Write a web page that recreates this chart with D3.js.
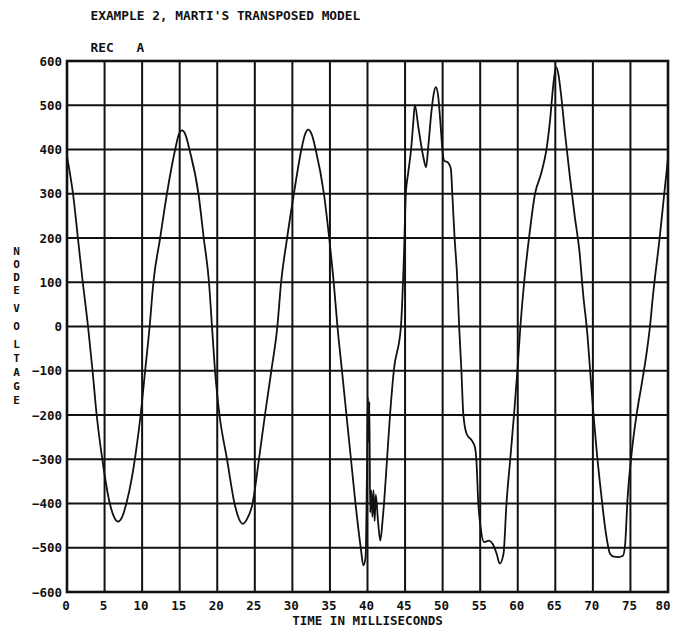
<!DOCTYPE html>
<html>
<head>
<meta charset="utf-8">
<script src="https://cdn.jsdelivr.net/npm/d3@7"></script>
<style>
  html, body { margin: 0; padding: 0; background: #fff; }
  svg { display: block; }
  text { font-family: "DejaVu Sans Mono", monospace; font-weight: bold; fill: #111; }
</style>
</head>
<body>
<svg id="chart" width="674" height="632"></svg>
<script>
// Node voltage at receiving end A, time in milliseconds
const timeMs = [
  0, 0.4, 0.8, 1.45, 2.1, 2.8, 3.4, 3.95, 4.7, 5.7, 6.3, 6.8, 7.3, 7.9, 8.6, 9.2, 9.8, 10.4, 11.0,
  11.5, 12.4, 13.3, 14.4, 14.9, 15.3, 15.8, 16.3, 17.5, 18.2, 18.9, 19.3, 19.7, 20.3, 21.3, 22.3,
  22.9, 23.4, 23.9, 24.7, 25.55, 26.35, 27.2, 28.0, 28.5, 29.3, 30.2, 31.2, 31.7, 32.1, 32.6, 33.1,
  34.2, 34.9, 35.5, 36.0, 36.6, 37.2, 37.8, 38.4, 39.1, 39.45, 39.75, 39.95, 40.05, 40.15, 40.25,
  40.35, 40.5, 40.65, 40.8, 40.95, 41.1, 41.4, 41.7, 42.0, 42.2, 42.6, 43.0, 43.5, 44.45, 44.85,
  45.1, 45.4, 45.8, 46.1, 46.3, 46.8, 47.4, 47.8, 48.1, 48.5, 48.85, 49.1, 49.4, 49.7, 50.0, 50.2,
  50.75, 51.1, 51.3, 51.6, 51.9, 52.2, 52.5, 52.75, 53.2, 53.9, 54.3, 54.5, 54.75, 55.05, 55.5,
  56.2, 56.65, 57.2, 57.6, 58.1, 58.5, 59.0, 59.5, 59.95, 60.35, 60.85, 61.5, 62.3, 63.1, 63.8,
  64.3, 64.7, 65.1, 65.4, 65.75, 66.3, 66.95, 67.6, 68.2, 68.7, 69.3, 69.6, 70.0, 70.5, 71.1,
  71.75, 72.3, 72.8, 73.4, 74.0, 74.3, 74.6, 75.2, 75.9, 76.5, 77.2, 77.6, 78.0, 78.9, 79.5, 80.0
];
const nodeVoltage = [
  385, 345, 300, 200, 100, 0, -100, -200, -300, -400, -432, -441, -432, -400, -345, -280, -200, -100, 0,
  100, 200, 300, 400, 435, 443, 432, 400, 300, 200, 100, 0, -100, -200, -300, -400,
  -435, -446, -437, -400, -300, -200, -100, 0, 100, 200, 300, 400, 435, 445, 433, 400,
  300, 200, 100, 0, -100, -200, -300, -400, -500, -540, -520, -300, -160, -260, -170,
  -420, -370, -430, -370, -440, -380, -440, -484, -440, -400, -300, -200, -100, 0, 160,
  300, 345, 400, 462, 500, 447, 386, 360, 409, 484, 529, 541, 522, 462, 394, 375,
  370, 356, 296, 198, 123, 0, -100, -197, -243, -258, -273, -303, -400, -453, -487,
  -484, -491, -514, -536, -514, -400, -300, -200, -100, 0, 100, 200, 300, 345, 398,
  466, 541, 586, 571, 526, 435, 337, 247, 172, 74, -24, -92, -182, -280, -378,
  -469, -514, -520, -521, -518, -491, -393, -280, -190, -130, -54, 0, 70, 202, 300, 380
];

const xTicks = [0, 5, 10, 15, 20, 25, 30, 35, 40, 45, 50, 55, 60, 65, 70, 75, 80];
const yTicks = [600, 500, 400, 300, 200, 100, 0, -100, -200, -300, -400, -500, -600];

const titleText = "EXAMPLE 2, MARTI'S TRANSPOSED MODEL";
const subtitleLeft = "REC";
const subtitleRight = "A";
const xTitle = "TIME IN MILLISECONDS";
const yTitleWords = ["NODE", "VOLTAGE"];

const svg = d3.select("#chart");
const plotLeft = 67, plotRight = 668, plotTop = 61, plotBottom = 592;

const x = d3.scaleLinear().domain([0, 80]).range([plotLeft, plotRight]);
const y = d3.scaleLinear().domain([-600, 600]).range([plotBottom, plotTop]);

// grid
const grid = svg.append("g").attr("stroke", "#111").attr("stroke-width", 2);
grid.selectAll("line.v").data(xTicks).join("line")
  .attr("class", "v")
  .attr("x1", d => x(d)).attr("x2", d => x(d))
  .attr("y1", plotTop).attr("y2", plotBottom);
grid.selectAll("line.h").data(yTicks).join("line")
  .attr("class", "h")
  .attr("x1", plotLeft).attr("x2", plotRight)
  .attr("y1", d => y(d)).attr("y2", d => y(d));

// frame
svg.append("rect")
  .attr("x", plotLeft).attr("y", plotTop)
  .attr("width", plotRight - plotLeft).attr("height", plotBottom - plotTop)
  .attr("fill", "none").attr("stroke", "#111").attr("stroke-width", 2.6);

// axes (labels only; grid provides the ticks)
const xAxis = d3.axisBottom(x).tickValues(xTicks).tickSize(0).tickPadding(9).tickFormat(d3.format("d"));
const gx = svg.append("g").attr("transform", `translate(0,${plotBottom})`).call(xAxis);
gx.select(".domain").remove();
gx.selectAll("text").attr("font-size", 12.5).attr("font-family", null).attr("fill", "#111")
  .attr("dx", -1.5);
// last label sits flush with the right frame
gx.selectAll(".tick").filter(d => d === 80).select("text")
  .attr("text-anchor", "end").attr("dx", 2);

const yAxis = d3.axisLeft(y).tickValues(yTicks).tickSize(0).tickPadding(5).tickFormat(d3.format("d"));
const gy = svg.append("g").attr("transform", `translate(${plotLeft},0)`).call(yAxis);
gy.select(".domain").remove();
gy.selectAll("text").attr("font-size", 12.5).attr("font-family", null).attr("fill", "#111");

// waveform
const pts = timeMs.map((t, i) => [t, nodeVoltage[i]]);
const line = d3.line().x(d => x(d[0])).y(d => y(d[1])).curve(d3.curveMonotoneX);
svg.append("path")
  .datum(pts)
  .attr("d", line)
  .attr("fill", "none")
  .attr("stroke", "#111")
  .attr("stroke-width", 1.8)
  .attr("stroke-linejoin", "round");

// titles
svg.append("text").attr("x", 90.5).attr("y", 19.5).attr("font-size", 12.8).text(titleText);
svg.append("text").attr("x", 90.5).attr("y", 52).attr("font-size", 12.8).text(subtitleLeft);
svg.append("text").attr("x", 136.5).attr("y", 52).attr("font-size", 12.8).text(subtitleRight);

svg.append("text")
  .attr("x", (plotLeft + plotRight) / 2).attr("y", 625)
  .attr("text-anchor", "middle").attr("font-size", 12.5)
  .text(xTitle);

// vertical stacked y title, one letter per line
const letterY = [251, 264, 277, 290, 308, 326, 344, 358, 372, 386, 400];
const letters = (yTitleWords[0] + yTitleWords[1]).split("");
svg.append("text")
  .attr("text-anchor", "middle")
  .attr("font-size", 11)
  .selectAll("tspan").data(letters).join("tspan")
  .attr("x", 16.5)
  .attr("y", (d, i) => letterY[i] + 4)
  .text(d => d);
</script>
</body>
</html>
